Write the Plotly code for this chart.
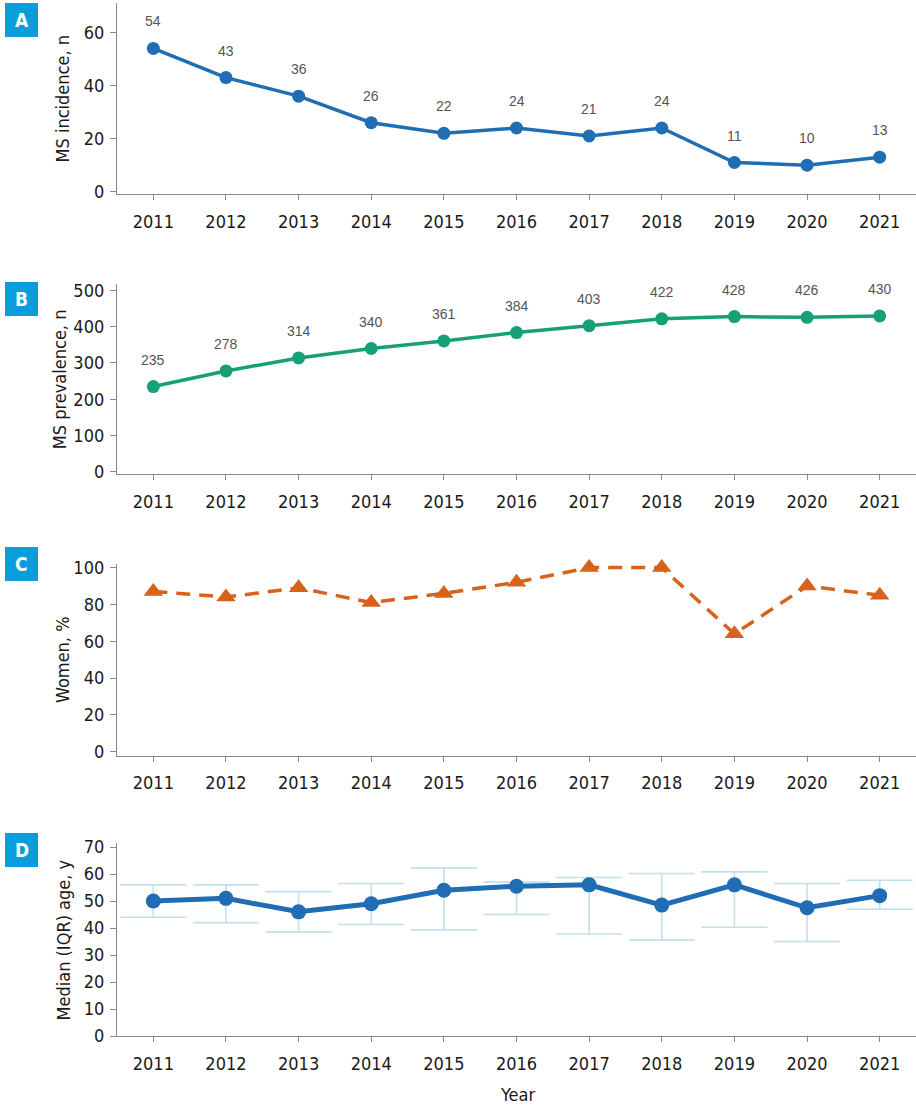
import plotly.graph_objects as go

years = [2011, 2012, 2013, 2014, 2015, 2016, 2017, 2018, 2019, 2020, 2021]
incidence = [54, 43, 36, 26, 22, 24, 21, 24, 11, 10, 13]
prevalence = [235, 278, 314, 340, 361, 384, 403, 422, 428, 426, 430]
women_pct = [87, 84, 89, 81, 86, 92, 100, 100, 64, 90, 85]
median_age = [50, 51, 46, 49, 54, 55.5, 56, 48.5, 56, 47.5, 52]
age_q1 = [44, 42, 38.5, 41.3, 39.3, 45, 37.8, 35.5, 40.3, 35, 47]
age_q3 = [56, 56, 53.5, 56.5, 62.3, 57, 58.7, 60.2, 60.8, 56.5, 57.7]

BLUE = "#1f6db3"
GREEN = "#179f77"
ORANGE = "#d8621b"
ERR = "#c3e0ec"
LABEL_BLUE = "#0b9ddb"
FAM = "DejaVu Sans Condensed, Liberation Sans Narrow, Roboto"
TICKFONT = dict(family=FAM, size=18, color="#1a1a1a")
TITLEFONT = dict(family=FAM, size=18, color="#1a1a1a")

W, H = 916, 1107

def py(p):
    return 1 - p / H

def px(p):
    return p / W

panels = [
    dict(top=3, bottom=194, rng=[-0.86, 71.1], dtick=20, title="MS incidence, n", letter="A", ltop=3, tx=62),
    dict(top=284, bottom=474.3, rng=[-7.2, 518], dtick=100, title="MS prevalence, n", letter="B", ltop=282, tx=59),
    dict(top=564.3, bottom=755.7, rng=[-2.2, 101.8], dtick=20, title="Women, %", letter="C", ltop=547, tx=62),
    dict(top=843, bottom=1036, rng=[0, 71.5], dtick=10, title="Median (IQR) age, y", letter="D", ltop=833, tx=63),
]

fig = go.Figure()

# Panel A
fig.add_trace(go.Scatter(x=years, y=incidence, mode="lines+markers",
                         line=dict(color=BLUE, width=3.5), marker=dict(color=BLUE, size=13),
                         xaxis="x", yaxis="y", showlegend=False, cliponaxis=False))
# Panel B
fig.add_trace(go.Scatter(x=years, y=prevalence, mode="lines+markers",
                         line=dict(color=GREEN, width=3.5), marker=dict(color=GREEN, size=13),
                         xaxis="x2", yaxis="y2", showlegend=False, cliponaxis=False))
# Panel C
fig.add_trace(go.Scatter(x=years, y=women_pct, mode="lines+markers",
                         line=dict(color=ORANGE, width=3.5, dash="14px,9px"),
                         marker=dict(color=ORANGE, size=17, symbol="triangle-up"),
                         xaxis="x3", yaxis="y3", showlegend=False, cliponaxis=False))
# Panel D
fig.add_trace(go.Scatter(x=years, y=median_age, mode="markers",
                         marker=dict(color="rgba(0,0,0,0)", size=1),
                         error_y=dict(type="data", symmetric=False,
                                      array=[q3 - m for q3, m in zip(age_q3, median_age)],
                                      arrayminus=[m - q1 for q1, m in zip(age_q1, median_age)],
                                      color=ERR, thickness=1.6, width=33),
                         xaxis="x4", yaxis="y4", showlegend=False))
fig.add_trace(go.Scatter(x=years, y=median_age, mode="lines+markers",
                         line=dict(color=BLUE, width=5), marker=dict(color=BLUE, size=15),
                         xaxis="x4", yaxis="y4", showlegend=False))

annotations = []
shapes = []
for i, p in enumerate(panels):
    n = "" if i == 0 else str(i + 1)
    xa = dict(domain=[px(117), 1], range=[2010.5, 2021.5], tickmode="array", tickvals=years,
              ticktext=[str(y) for y in years], showline=True, linecolor="#8a8a8a", linewidth=1.3,
              ticks="outside", ticklen=5, tickcolor="#8a8a8a", tickfont=TICKFONT,
              showgrid=False, zeroline=False, anchor="y" + n, ticklabelstandoff=6, automargin=False)
    ya = dict(domain=[py(p["bottom"]), py(p["top"])], range=p["rng"], dtick=p["dtick"], tick0=0,
              showline=True, linecolor="#8a8a8a", linewidth=1.3, ticks="outside", ticklen=6,
              tickcolor="#8a8a8a", tickfont=TICKFONT, showgrid=False, zeroline=False,
              anchor="x" + n, ticklabelstandoff=2, automargin=False)
    fig.layout["xaxis" + n] = xa
    fig.layout["yaxis" + n] = ya
    # y-axis title
    annotations.append(dict(text=p["title"], xref="paper", yref="paper", x=px(p["tx"]),
                            y=py((p["top"] + p["bottom"]) / 2), textangle=-90, showarrow=False,
                            font=TITLEFONT, xanchor="center", yanchor="middle"))
    # panel letter box
    shapes.append(dict(type="rect", xref="paper", yref="paper", x0=px(5), x1=px(38),
                       y0=py(p["ltop"] + 34), y1=py(p["ltop"]), fillcolor=LABEL_BLUE, line=dict(width=0)))
    annotations.append(dict(text="<b>" + p["letter"] + "</b>", xref="paper", yref="paper",
                            x=px(21.5), y=py(p["ltop"] + 17), showarrow=False,
                            font=dict(family=FAM, size=19, color="white"),
                            xanchor="center", yanchor="middle"))

annotations.append(dict(text="Year", xref="paper", yref="paper", x=px(517), y=py(1094),
                        showarrow=False, font=TITLEFONT, xanchor="center", yanchor="middle"))

# data labels
for xv, yv in zip(years, incidence):
    annotations.append(dict(text=str(yv), x=xv, y=yv, xref="x", yref="y", showarrow=False,
                            yshift=27, font=dict(family="Liberation Sans, Arial", size=14, color="#555555")))
for xv, yv in zip(years, prevalence):
    annotations.append(dict(text=str(yv), x=xv, y=yv, xref="x2", yref="y2", showarrow=False,
                            yshift=27, font=dict(family="Liberation Sans, Arial", size=14, color="#555555")))

fig.update_layout(width=W, height=H, margin=dict(l=0, r=0, t=0, b=0, autoexpand=False), autosize=False,
                  paper_bgcolor="white", plot_bgcolor="white",
                  annotations=annotations, shapes=shapes)

fig.write_html("out.html")
